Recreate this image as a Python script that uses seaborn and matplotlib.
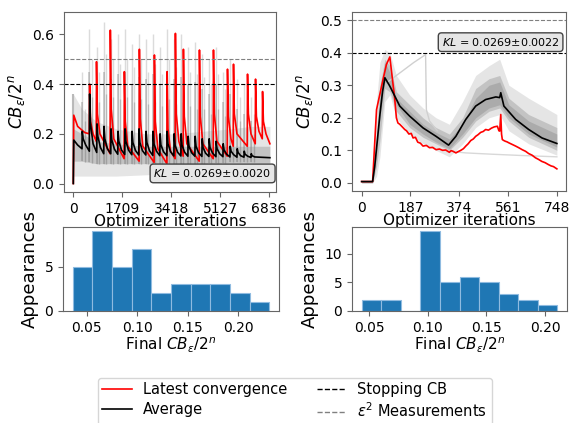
import numpy as np
import pandas as pd
import matplotlib
matplotlib.use("Agg")
import matplotlib.pyplot as plt
import seaborn as sns

# ------------------------------------------------------------------ data
left_ticks = [0, 1709, 3418, 5127, 6836]
right_ticks = [0, 187, 374, 561, 748]
kl_left = "0.0269±0.0020"
kl_right = "0.0269±0.0022"
stop_cb = 0.4
eps_meas = 0.5

# left panel - average curve: spike positions, value before spike, peak, decay points
avg_spike_x = [303, 560, 817, 1062, 1307, 1552, 1797, 2042, 2287, 2532, 2777, 3022, 3268,
               3513, 3758, 4003, 4248, 4493, 4738, 4983, 5228, 5473, 5718, 5963, 6208]
avg_before = [0.14, 0.13, 0.125, 0.12, 0.12, 0.118, 0.117, 0.116, 0.115, 0.115, 0.113, 0.112, 0.112,
              0.111, 0.111, 0.110, 0.110, 0.109, 0.109, 0.108, 0.108, 0.107, 0.106, 0.106, 0.105]
avg_peak = [0.21, 0.36, 0.24, 0.23, 0.22, 0.21, 0.22, 0.21, 0.22, 0.21, 0.21, 0.20, 0.21,
            0.20, 0.20, 0.19, 0.19, 0.18, 0.18, 0.17, 0.16, 0.15, 0.14, 0.13, 0.12]
avg_a1 = [0.18, 0.24, 0.19, 0.18, 0.175, 0.17, 0.17, 0.165, 0.165, 0.165, 0.16, 0.155, 0.16,
          0.155, 0.155, 0.15, 0.15, 0.145, 0.145, 0.14, 0.135, 0.13, 0.125, 0.118, 0.112]
avg_a2 = [0.155, 0.16, 0.145, 0.14, 0.138, 0.135, 0.135, 0.133, 0.132, 0.132, 0.13, 0.128, 0.128,
          0.126, 0.126, 0.124, 0.124, 0.122, 0.122, 0.12, 0.118, 0.116, 0.112, 0.11, 0.107]
avg_start = [(0, 0.0), (15, 0.175), (150, 0.155)]
avg_end = [(6870, 0.104)]

# left panel - latest convergence
red_spike_x = [560, 800, 1284, 1774, 2299, 2824, 3268, 3558, 3838, 4398, 4888, 5378, 5588,
               6078, 6358, 6603]
red_before = [0.20, 0.17, 0.12, 0.10, 0.09, 0.085, 0.08, 0.10, 0.11, 0.09, 0.10, 0.11, 0.15,
              0.15, 0.16, 0.18]
red_peak = [0.40, 0.49, 0.617, 0.45, 0.54, 0.517, 0.45, 0.604, 0.54, 0.537, 0.537, 0.46,
            0.48, 0.44, 0.42, 0.37]
red_a1 = [0.25, 0.28, 0.30, 0.25, 0.26, 0.25, 0.22, 0.28, 0.27, 0.27, 0.28, 0.27, 0.28,
          0.28, 0.27, 0.25]
red_a2 = [0.2, 0.2, 0.18, 0.15, 0.15, 0.14, 0.13, 0.17, 0.16, 0.16, 0.17, 0.18, 0.2,
          0.2, 0.21, 0.2]
red_start = [(0, 0.0), (15, 0.275), (150, 0.23), (400, 0.205)]
red_end = [(6870, 0.16)]

# left panel - spread of the other runs
gray_x = [0, 300, 800, 1500, 2500, 3500, 4500, 5500, 6200, 6870]
gray_low = [0.03, 0.03, 0.03, 0.03, 0.035, 0.04, 0.045, 0.05, 0.06, 0.06]
gray_high = [0.36, 0.3, 0.25, 0.22, 0.2, 0.2, 0.21, 0.22, 0.23, 0.23]
gray_core_low = [0.09, 0.09, 0.08, 0.08, 0.08, 0.08, 0.08, 0.085, 0.085, 0.085]
gray_core_high = [0.22, 0.2, 0.17, 0.16, 0.15, 0.15, 0.15, 0.15, 0.15, 0.15]
gray_spike_top = [0.45, 0.62, 0.55, 0.65, 0.58, 0.6, 0.62, 0.56, 0.6, 0.58, 0.6, 0.55, 0.62,
                  0.58, 0.6, 0.55, 0.57, 0.52, 0.5, 0.55, 0.45, 0.5, 0.42, 0.4, 0.35]
gray_spike_mid = [0.33, 0.45, 0.4, 0.45, 0.42, 0.44, 0.45, 0.4, 0.43, 0.42, 0.44, 0.4, 0.45,
                  0.42, 0.43, 0.4, 0.41, 0.38, 0.36, 0.4, 0.33, 0.36, 0.3, 0.28, 0.25]
gray_spike2_x = [393, 650, 907, 1152, 1397, 1642, 1887, 2132, 2377, 2622, 2867, 3112, 3358,
                 3603, 3848, 4093, 4338, 4583, 4828, 5073, 5318, 5563, 5808, 6053, 6298]
gray_spike2_top = [0.3, 0.5, 0.45, 0.52, 0.5, 0.48, 0.5, 0.47, 0.5, 0.45, 0.48, 0.44, 0.5,
                   0.47, 0.48, 0.45, 0.44, 0.43, 0.4, 0.44, 0.38, 0.4, 0.35, 0.3, 0.28]
gray_spike2_mid = [0.25, 0.35, 0.33, 0.36, 0.35, 0.34, 0.35, 0.33, 0.34, 0.32, 0.33, 0.31, 0.34,
                   0.32, 0.33, 0.31, 0.3, 0.3, 0.28, 0.3, 0.27, 0.28, 0.25, 0.22, 0.2]

# right panel - average
r_avg_x = [0, 42, 50, 60, 70, 80, 89, 108, 146, 184, 235, 285, 333, 361, 399, 437, 475, 514,
           529, 533, 545, 590, 640, 691, 748]
r_avg_y = [0.004, 0.004, 0.05, 0.13, 0.21, 0.28, 0.323, 0.297, 0.236, 0.205, 0.169, 0.143,
           0.116, 0.143, 0.195, 0.236, 0.256, 0.264, 0.262, 0.277, 0.236, 0.195, 0.164, 0.138,
           0.121]
# right panel - latest convergence
r_red_x = [0, 42, 57, 82, 95, 108, 118, 127, 133, 139, 146, 152, 158, 165, 172, 181, 190, 197,
           206, 215, 225, 235, 248, 260, 272, 285, 298, 310, 322, 336, 343, 350, 361, 370, 380,
           390, 399, 408, 418, 428, 437, 446, 456, 466, 475, 486, 497, 508, 520, 526, 529, 533,
           536, 539, 545, 550, 557, 564, 577, 590, 602, 615, 628, 640, 653, 666, 678, 690, 703,
           716, 726, 735, 748]
r_red_y = [0.004, 0.004, 0.225, 0.318, 0.364, 0.387, 0.318, 0.256, 0.2, 0.184, 0.18, 0.175,
           0.17, 0.164, 0.16, 0.15, 0.152, 0.138, 0.14, 0.125, 0.122, 0.113, 0.115, 0.108, 0.109,
           0.102, 0.104, 0.1, 0.101, 0.094, 0.099, 0.097, 0.092, 0.096, 0.1, 0.105, 0.113, 0.12,
           0.13, 0.135, 0.143, 0.148, 0.155, 0.158, 0.164, 0.162, 0.168, 0.172, 0.174, 0.16,
           0.159, 0.21, 0.15, 0.133, 0.13, 0.128, 0.126, 0.123, 0.118, 0.113, 0.108, 0.102,
           0.097, 0.09, 0.085, 0.077, 0.072, 0.066, 0.062, 0.056, 0.052, 0.05, 0.043]
# right panel - spread of the other runs
r_gray_x = [0, 42, 57, 70, 89, 108, 133, 184, 235, 285, 336, 387, 437, 488, 529, 564, 640, 748]
r_gray_low = [0.0, 0.0, 0.02, 0.08, 0.25, 0.27, 0.2, 0.15, 0.12, 0.1, 0.08, 0.12, 0.17, 0.2,
              0.21, 0.16, 0.12, 0.085]
r_gray_high = [0.006, 0.006, 0.25, 0.37, 0.41, 0.4, 0.33, 0.27, 0.23, 0.2, 0.18, 0.25, 0.33,
               0.36, 0.38, 0.3, 0.26, 0.21]
r_core_low = [0.0, 0.0, 0.05, 0.13, 0.29, 0.28, 0.22, 0.17, 0.14, 0.12, 0.1, 0.14, 0.19, 0.22,
              0.23, 0.19, 0.14, 0.1]
r_core_high = [0.005, 0.005, 0.15, 0.3, 0.38, 0.36, 0.28, 0.24, 0.2, 0.17, 0.15, 0.2, 0.29,
               0.32, 0.33, 0.26, 0.21, 0.17]
r_dark_low = [0.0, 0.0, 0.08, 0.2, 0.31, 0.3, 0.24, 0.18, 0.15, 0.125, 0.105, 0.15, 0.2, 0.23,
              0.24, 0.2, 0.15, 0.11]
r_dark_high = [0.004, 0.004, 0.1, 0.26, 0.37, 0.34, 0.26, 0.22, 0.18, 0.155, 0.135, 0.18, 0.26,
               0.3, 0.31, 0.24, 0.19, 0.15]
r_outlier_x = [100, 150, 200, 245, 248, 260, 290]
r_outlier_y = [0.31, 0.34, 0.37, 0.394, 0.225, 0.19, 0.16]
r_low_x = [336, 400, 500, 615, 748]
r_low_y = [0.097, 0.092, 0.088, 0.084, 0.08]

# histograms (bin edges and counts of final values)
hist_l_edges = [0.036, 0.0555, 0.075, 0.0945, 0.114, 0.1335, 0.153, 0.1725, 0.192, 0.2115, 0.231]
hist_l_counts = [5, 9, 5, 7, 2, 3, 3, 3, 2, 1]
hist_r_edges = [0.0438, 0.0605, 0.0771, 0.0938, 0.1105, 0.1271, 0.1438, 0.1605, 0.1771, 0.1938, 0.2104]
hist_r_counts = [2, 2, 0, 14, 5, 6, 5, 3, 2, 1]

# ------------------------------------------------------------------ helpers
def sawtooth(start, xs, before, peak, a1, a2, end):
    px, py = [p[0] for p in start], [p[1] for p in start]
    for x, b, p, u, v in zip(xs, before, peak, a1, a2):
        px += [x, x + 10, x + 40, x + 130]
        py += [b, p, u, v]
    px += [e[0] for e in end]
    py += [e[1] for e in end]
    return pd.DataFrame({"x": px, "y": py})

plt.rcParams.update({
    "font.family": ["DejaVu Sans"],
    "axes.edgecolor": "#666666",
    "xtick.color": "#666666",
    "ytick.color": "#666666",
    "xtick.labelcolor": "black",
    "ytick.labelcolor": "black",
    "xtick.labelsize": 10,
    "ytick.labelsize": 10,
    "axes.labelsize": 11,
})

fig = plt.figure(figsize=(5.76, 4.23), dpi=100)
ax1 = fig.add_axes([64 / 576, 1 - 192 / 423, 212 / 576, 180 / 423])
ax2 = fig.add_axes([352 / 576, 1 - 191 / 423, 214 / 576, 179 / 423])
ax3 = fig.add_axes([63 / 576, 1 - 311 / 423, 216 / 576, 84 / 423])
ax4 = fig.add_axes([352 / 576, 1 - 311 / 423, 215 / 576, 84 / 423])

# ---- top left
ax1.fill_between(gray_x, gray_low, gray_high, color="#999999", alpha=0.25, lw=0)
ax1.fill_between(gray_x, gray_core_low, gray_core_high, color="#777777", alpha=0.3, lw=0)
base1 = np.interp(avg_spike_x, gray_x, gray_core_low)
base2 = np.interp(gray_spike2_x, gray_x, gray_core_low)
ax1.vlines(avg_spike_x, base1, gray_spike_top, color="#b0b0b0", alpha=0.45, lw=1.0)
ax1.vlines(gray_spike2_x, base2, gray_spike2_top, color="#b0b0b0", alpha=0.45, lw=1.0)
ax1.vlines(avg_spike_x, base1, gray_spike_mid, color="#666666", alpha=0.35, lw=1.2)
ax1.vlines(gray_spike2_x, base2, gray_spike2_mid, color="#666666", alpha=0.3, lw=1.0)
ax1.vlines([0], [0], [0.36], color="#777777", alpha=0.5, lw=1.5)
red_l = sawtooth(red_start, red_spike_x, red_before, red_peak, red_a1, red_a2, red_end)
avg_l = sawtooth(avg_start, avg_spike_x, avg_before, avg_peak, avg_a1, avg_a2, avg_end)
sns.lineplot(data=red_l, x="x", y="y", ax=ax1, color="red", lw=1.2, estimator=None, sort=False)
sns.lineplot(data=avg_l, x="x", y="y", ax=ax1, color="black", lw=1.2, estimator=None, sort=False)
ax1.axhline(stop_cb, color="black", ls="--", lw=0.8)
ax1.axhline(eps_meas, color="gray", ls="--", lw=0.8)
ax1.set_xlim(-326, 7083)
ax1.set_ylim(-0.034, 0.69)
ax1.set_xticks(left_ticks)
ax1.set_yticks([0.0, 0.2, 0.4, 0.6])
ax1.set_xlabel("Optimizer iterations", labelpad=-1)
ax1.set_ylabel(r"$CB_\epsilon/2^n$", fontsize=12)
ax1.text(0.98, 0.07, r"$KL$ = " + kl_left, transform=ax1.transAxes, ha="right", va="bottom",
         fontsize=8, bbox=dict(boxstyle="round,pad=0.3", fc="#e6e6e6", ec="#444444"))

# ---- top right
ax2.fill_between(r_gray_x, r_gray_low, r_gray_high, color="#999999", alpha=0.25, lw=0)
ax2.fill_between(r_gray_x, r_core_low, r_core_high, color="#777777", alpha=0.3, lw=0)
ax2.fill_between(r_gray_x, r_dark_low, r_dark_high, color="#666666", alpha=0.25, lw=0)
sns.lineplot(x=r_outlier_x, y=r_outlier_y, ax=ax2, color="#d0d0d0", lw=1.0, estimator=None)
sns.lineplot(x=r_low_x, y=r_low_y, ax=ax2, color="#d8d8d8", lw=1.0, estimator=None)
sns.lineplot(x=r_red_x, y=r_red_y, ax=ax2, color="red", lw=1.2, estimator=None)
sns.lineplot(x=r_avg_x, y=r_avg_y, ax=ax2, color="black", lw=1.2, estimator=None)
ax2.axhline(stop_cb, color="black", ls="--", lw=0.8)
ax2.axhline(eps_meas, color="gray", ls="--", lw=0.8)
ax2.set_xlim(-37, 783)
ax2.set_ylim(-0.025, 0.525)
ax2.set_xticks(right_ticks)
ax2.set_yticks([0.0, 0.1, 0.2, 0.3, 0.4, 0.5])
ax2.set_xlabel("Optimizer iterations", labelpad=-1)
ax2.set_ylabel(r"$CB_\epsilon/2^n$", fontsize=12)
ax2.text(0.97, 0.865, r"$KL$ = " + kl_right, transform=ax2.transAxes, ha="right", va="top",
         fontsize=8, bbox=dict(boxstyle="round,pad=0.3", fc="#e6e6e6", ec="#444444"))

# ---- histograms
for ax, edges, counts in [(ax3, hist_l_edges, hist_l_counts), (ax4, hist_r_edges, hist_r_counts)]:
    centers = [(a + b) / 2 for a, b in zip(edges[:-1], edges[1:])]
    sns.histplot(x=centers, weights=counts, bins=edges, ax=ax, color="#1f77b4", alpha=1,
                 edgecolor="#8fbbe0", linewidth=0.8)
    ax.set_xlabel(r"Final $CB_\epsilon/2^n$", labelpad=1)
    ax.set_ylabel("Appearances", fontsize=13)
ax3.set_xticks([0.05, 0.10, 0.15, 0.20])
ax4.set_xticks([0.05, 0.10, 0.15, 0.20])
ax3.set_yticks([0, 5])
ax4.set_yticks([0, 5, 10])

# ---- legend
handles = [
    plt.Line2D([], [], color="red", lw=1.2),
    plt.Line2D([], [], color="black", lw=1.2),
    plt.Line2D([], [], color="black", ls="--", lw=1.0),
    plt.Line2D([], [], color="gray", ls="--", lw=1.0),
]
labels = ["Latest convergence", "Average", "Stopping CB", r"$\epsilon^2$ Measurements"]
fig.legend(handles, labels, ncol=2, loc="upper left", bbox_to_anchor=(98 / 576, 1 - 378 / 423),
           borderaxespad=0, fontsize=10.5, frameon=True, labelspacing=0.3, borderpad=0.3)

fig.savefig("out.png", dpi=100)
